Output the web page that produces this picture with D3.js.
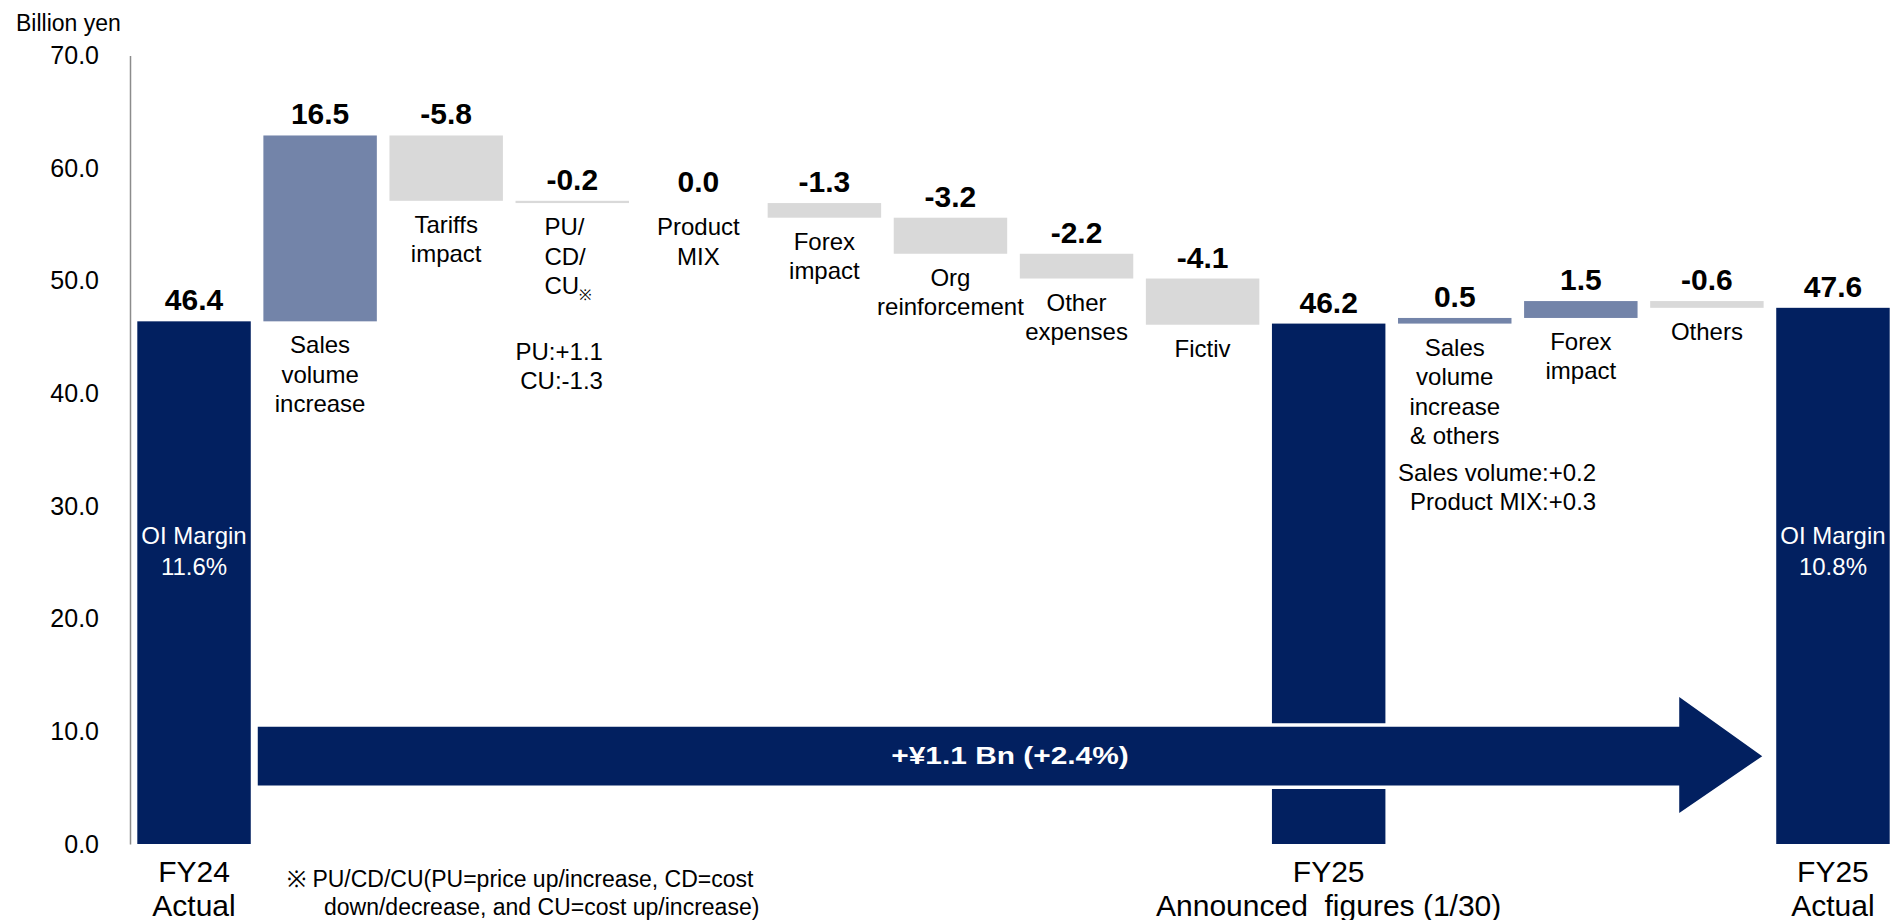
<!DOCTYPE html>
<html>
<head>
<meta charset="utf-8">
<script src="https://cdn.jsdelivr.net/npm/d3@7"></script>
<style>
  body { margin: 0; background: #fff; }
  svg text { font-family: "Liberation Sans", Arial, sans-serif; white-space: pre; }
</style>
</head>
<body>
<svg id="chart" width="1890" height="920"></svg>
<script>
// bridge FY24 actual -> FY25 announced -> FY25 actual
var categories = [
    "FY24\nActual",
    "Sales\nvolume\nincrease",
    "Tariffs\nimpact",
    "PU/\nCD/\nCU※",
    "Product\nMIX",
    "Forex\nimpact",
    "Org\nreinforcement",
    "Other\nexpenses",
    "Fictiv",
    "FY25\nAnnounced  figures (1/30)",
    "Sales\nvolume\nincrease\n& others",
    "Forex\nimpact",
    "Others",
    "FY25\nActual"
];
var values = [46.4, 16.5, -5.8, -0.2, 0.0, -1.3, -3.2, -2.2, -4.1, 46.2, 0.5, 1.5, -0.6, 47.6];
var kinds = ["total", "delta", "delta", "delta", "delta", "delta", "delta", "delta", "delta",
             "total", "delta", "delta", "delta", "total"];
var valueLabels = ["46.4", "16.5", "-5.8", "-0.2", "0.0", "-1.3", "-3.2", "-2.2", "-4.1",
                   "46.2", "0.5", "1.5", "-0.6", "47.6"];
var marginLabels = [["OI Margin", "11.6%"], null, null, null, null, null, null, null, null,
                    null, null, null, null, ["OI Margin", "10.8%"]];
var notes = [null, null, null, ["PU:+1.1", "CU:-1.3"], null, null, null, null, null,
             null, ["Sales volume:+0.2", "Product MIX:+0.3"], null, null, null];
var yTicks = [0, 10, 20, 30, 40, 50, 60, 70];
var unitLabel = "Billion yen";
var arrowText = "+¥1.1 Bn (+2.4%)";
var footnote = ["※ PU/CD/CU(PU=price up/increase, CD=cost", "down/decrease, and CU=cost up/increase)"];

var navy = "#022060", blue = "#7384a9", grey = "#d9d9d9";

var svg = d3.select("#chart");

var y = d3.scaleLinear().domain([0, 70]).range([844, 55.5]);
var x = d3.scaleBand()
    .domain(d3.range(categories.length))
    .range([131, 1896])
    .paddingInner(0.1)
    .paddingOuter(0.05);

// running totals
var running = 0;
var bars = values.map(function(v, i) {
    if (kinds[i] == "total") {
        running = v;
        return {i: i, v: v, lo: 0, hi: v, kind: "total"};
    }
    var s = running;
    running = running + v;
    return {i: i, v: v, lo: Math.min(s, running), hi: Math.max(s, running), kind: "delta"};
});

// y axis
var yAxis = svg.append("g")
    .attr("transform", "translate(130,0)")
    .call(d3.axisLeft(y).tickValues(yTicks).tickSize(0).tickSizeOuter(0).tickPadding(31).tickFormat(d3.format(".1f")));
yAxis.select(".domain").attr("stroke", "#8c8c8c").attr("stroke-width", 1.5);
yAxis.selectAll("text").style("font-size", "25px").attr("fill", "#000")
    .style("font-family", "'Liberation Sans', Arial, sans-serif");

svg.append("text").attr("x", 16).attr("y", 31)
    .style("font-size", "23px").text(unitLabel);

// bars
svg.selectAll("rect.bar")
    .data(bars)
    .enter()
    .append("rect")
    .attr("class", "bar")
    .attr("x", function(d) { return x(d.i); })
    .attr("y", function(d) { return y(d.hi); })
    .attr("width", x.bandwidth())
    .attr("height", function(d) { return y(d.lo) - y(d.hi); })
    .attr("fill", function(d) {
        if (d.kind == "total") return navy;
        return d.v > 0 ? blue : grey;
    });

// value labels
svg.selectAll("text.val")
    .data(bars)
    .enter()
    .append("text")
    .attr("class", "val")
    .attr("x", function(d) { return x(d.i) + x.bandwidth() / 2; })
    .attr("y", function(d) { return y(d.hi) - 11; })
    .attr("text-anchor", "middle")
    .style("font-size", "30px")
    .style("font-weight", "bold")
    .text(function(d) { return valueLabels[d.i]; });

// category labels
bars.forEach(function(d) {
    var lines = categories[d.i].split("\n");
    var cx = x(d.i) + x.bandwidth() / 2;
    var g = svg.append("g");
    var fs, lh, base;
    if (d.kind == "total") {
        fs = 30; lh = 34; base = y(0) + 38;
    } else {
        fs = 24; lh = 29.5; base = y(d.lo) + 32;
    }
    var leftAlign = categories[d.i].indexOf("※") >= 0;
    lines.forEach(function(line, k) {
        var t = g.append("text")
            .attr("x", leftAlign ? 0 : cx)
            .attr("y", base + k * lh)
            .attr("text-anchor", leftAlign ? "start" : "middle")
            .style("font-size", fs + "px");
        if (line.indexOf("※") >= 0) {
            t.append("tspan").text(line.replace("※", ""));
            t.append("tspan").attr("dy", 6).style("font-size", "15px").text("※");
        } else {
            t.text(line);
        }
    });
    if (leftAlign) {
        var w = g.node().getBBox().width;
        g.attr("transform", "translate(" + (cx - w / 2 - 4) + ",0)");
    }

    // notes under some deltas
    if (notes[d.i]) {
        var ng = svg.append("g");
        var nt = notes[d.i].map(function(line, k) {
            return ng.append("text")
                .attr("y", y(d.lo) + 157 + k * 29)
                .attr("text-anchor", "end")
                .style("font-size", "24px")
                .text(line);
        });
        var mw = d3.max(nt, function(t) { return t.node().getComputedTextLength(); });
        nt.forEach(function(t) { t.attr("x", mw); });
        ng.attr("transform", "translate(" + x(d.i) + ",0)");
    }

    // OI margin inside totals
    if (marginLabels[d.i]) {
        marginLabels[d.i].forEach(function(line, k) {
            svg.append("text")
                .attr("x", cx)
                .attr("y", y(26) + (k - 0.5) * 31 + 8.5)
                .attr("text-anchor", "middle")
                .attr("fill", "#fff")
                .style("font-size", "24px")
                .text(line);
        });
    }
});

// big arrow FY24 -> FY25 actual
var last = categories.length - 1;
var ax0 = x(0) + x.bandwidth() + 7,
    axTip = x(last) - 14,
    axBase = axTip - 83;
var arrowPts = [
    [ax0, y(10.4)], [axBase, y(10.4)], [axBase, y(13.05)],
    [axTip, y(7.8)],
    [axBase, y(2.75)], [axBase, y(5.2)], [ax0, y(5.2)]
];
var arrowPath = d3.line()(arrowPts) + "Z";
svg.append("path").attr("d", arrowPath)
    .attr("fill", navy).attr("stroke", "#fff").attr("stroke-width", 7).attr("stroke-linejoin", "miter");
svg.append("path").attr("d", arrowPath).attr("fill", navy);

svg.append("text")
    .attr("transform", "translate(" + ((ax0 + axTip) / 2) + "," + y(7.8) + ") scale(1.3,1)")
    .attr("y", 8)
    .attr("text-anchor", "middle")
    .attr("fill", "#fff")
    .style("font-size", "23px")
    .style("font-weight", "bold")
    .text(arrowText);

// footnote
svg.append("text").attr("x", 287).attr("y", 887).style("font-size", "23px").text(footnote[0]);
svg.append("text").attr("x", 324).attr("y", 915).style("font-size", "23px").text(footnote[1]);
</script>
</body>
</html>
